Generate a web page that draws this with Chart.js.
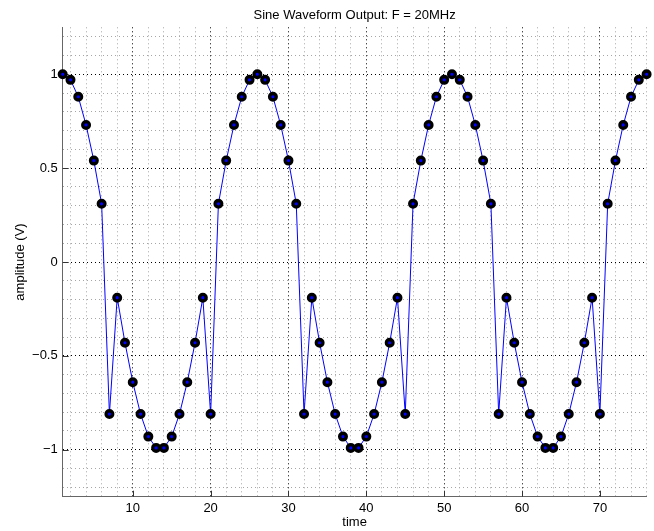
<!DOCTYPE html>
<html>
<head>
<meta charset="utf-8">
<title>Sine Waveform Output</title>
<script src="https://cdn.jsdelivr.net/npm/chart.js@4.4.1/dist/chart.umd.min.js"></script>
<style>
  html, body { margin: 0; padding: 0; background: #fff; }
  #wrap { width: 654px; height: 531px; }
</style>
</head>
<body>
<div id="wrap"><canvas id="sine-chart"></canvas></div>
<script>
const time = [1, 2, 3, 4, 5, 6, 7, 8, 9, 10, 11, 12, 13, 14, 15, 16, 17, 18, 19, 20,
  21, 22, 23, 24, 25, 26, 27, 28, 29, 30, 31, 32, 33, 34, 35, 36, 37, 38, 39, 40,
  41, 42, 43, 44, 45, 46, 47, 48, 49, 50, 51, 52, 53, 54, 55, 56, 57, 58, 59, 60,
  61, 62, 63, 64, 65, 66, 67, 68, 69, 70, 71, 72, 73, 74, 75, 76];
const amplitude = [1, 0.97, 0.88, 0.73, 0.54, 0.31, -0.81, -0.19, -0.43, -0.64,
  -0.81, -0.93, -0.99, -0.99, -0.93, -0.81, -0.64, -0.43, -0.19, -0.81,
  0.31, 0.54, 0.73, 0.88, 0.97, 1, 0.97, 0.88, 0.73, 0.54,
  0.31, -0.81, -0.19, -0.43, -0.64, -0.81, -0.93, -0.99, -0.99, -0.93,
  -0.81, -0.64, -0.43, -0.19, -0.81, 0.31, 0.54, 0.73, 0.88, 0.97,
  1, 0.97, 0.88, 0.73, 0.54, 0.31, -0.81, -0.19, -0.43, -0.64,
  -0.81, -0.93, -0.99, -0.99, -0.93, -0.81, -0.64, -0.43, -0.19, -0.81,
  0.31, 0.54, 0.73, 0.88, 0.97, 1];

const xMajorTicks = [10, 20, 30, 40, 50, 60, 70];
const yMajorTicks = [-1, -0.5, 0, 0.5, 1];
const yTickLabels = ['\u22121', '\u22120.5', '0', '0.5', '1'];

Chart.defaults.font.family = "'Liberation Sans', Arial, Helvetica, sans-serif";
Chart.defaults.font.size = 13;
Chart.defaults.color = '#000';

function isMajor(ctx, majors) {
  return ctx.tick ? majors.includes(ctx.tick.value) : false;
}

// matlab style ticks pointing into the plot
const inwardTicks = {
  id: 'inwardTicks',
  beforeDatasetsDraw(chart) {
    const { ctx, chartArea, scales } = chart;
    ctx.save();
    ctx.strokeStyle = '#333';
    ctx.lineWidth = 1;
    ctx.beginPath();
    xMajorTicks.forEach(v => {
      const px = Math.round(scales.x.getPixelForValue(v)) + 0.5;
      ctx.moveTo(px, chartArea.bottom);
      ctx.lineTo(px, chartArea.bottom - 6);
    });
    yMajorTicks.forEach(v => {
      const py = Math.round(scales.y.getPixelForValue(v)) + 0.5;
      ctx.moveTo(chartArea.left, py);
      ctx.lineTo(chartArea.left + 6, py);
    });
    ctx.stroke();
    ctx.restore();
  }
};

new Chart(document.getElementById('sine-chart'), {
  type: 'line',
  data: {
    datasets: [{
      data: time.map((t, i) => ({ x: t, y: amplitude[i] })),
      borderColor: '#0000ff',
      borderWidth: 1,
      pointRadius: 3.3,
      pointBorderWidth: 3.4,
      pointBorderColor: '#000',
      pointBackgroundColor: '#0000ff',
      tension: 0,
      clip: false
    }]
  },
  options: {
    responsive: true,
    maintainAspectRatio: false,
    animation: false,
    layout: { padding: { right: 3.6 } },
    plugins: {
      legend: { display: false },
      tooltip: { enabled: false },
      title: {
        display: true,
        text: 'Sine Waveform Output: F = 20MHz',
        fullSize: false,
        font: { size: 13, weight: 'normal' },
        padding: { top: 7.3, bottom: 4.4 }
      }
    },
    scales: {
      x: {
        type: 'linear',
        min: 1,
        max: 76,
        afterBuildTicks: s => {
          s.ticks = [];
          for (let v = 2; v <= 76; v += 2) s.ticks.push({ value: v });
        },
        afterFit: s => { s.height = 34.3; },
        ticks: {
          autoSkip: false,
          maxRotation: 0,
          padding: 4,
          callback: v => xMajorTicks.includes(v) ? String(v) : ''
        },
        grid: {
          drawTicks: false,
          lineWidth: 1,
          color: ctx => isMajor(ctx, xMajorTicks) ? '#000' : '#a6a6a6'
        },
        border: { display: true, color: '#666', width: 1, dash: [1, 3] },
        title: { display: true, text: 'time', padding: { top: 0, bottom: 1 } }
      },
      y: {
        type: 'linear',
        min: -1.25,
        max: 1.25,
        afterBuildTicks: s => {
          s.ticks = [];
          for (let k = -12; k <= 12; k++) s.ticks.push({ value: k / 10 });
        },
        afterFit: s => { s.width = 62.7; },
        ticks: {
          autoSkip: false,
          padding: 5,
          callback: v => {
            const i = yMajorTicks.indexOf(v);
            return i < 0 ? '' : yTickLabels[i];
          }
        },
        grid: {
          drawTicks: false,
          lineWidth: 1,
          color: ctx => isMajor(ctx, yMajorTicks) ? '#000' : '#a6a6a6'
        },
        border: { display: true, color: '#666', width: 1, dash: [1, 3] },
        title: { display: true, text: 'amplitude (V)', padding: { top: 13, bottom: 0 } }
      }
    }
  },
  plugins: [inwardTicks]
});
</script>
</body>
</html>
